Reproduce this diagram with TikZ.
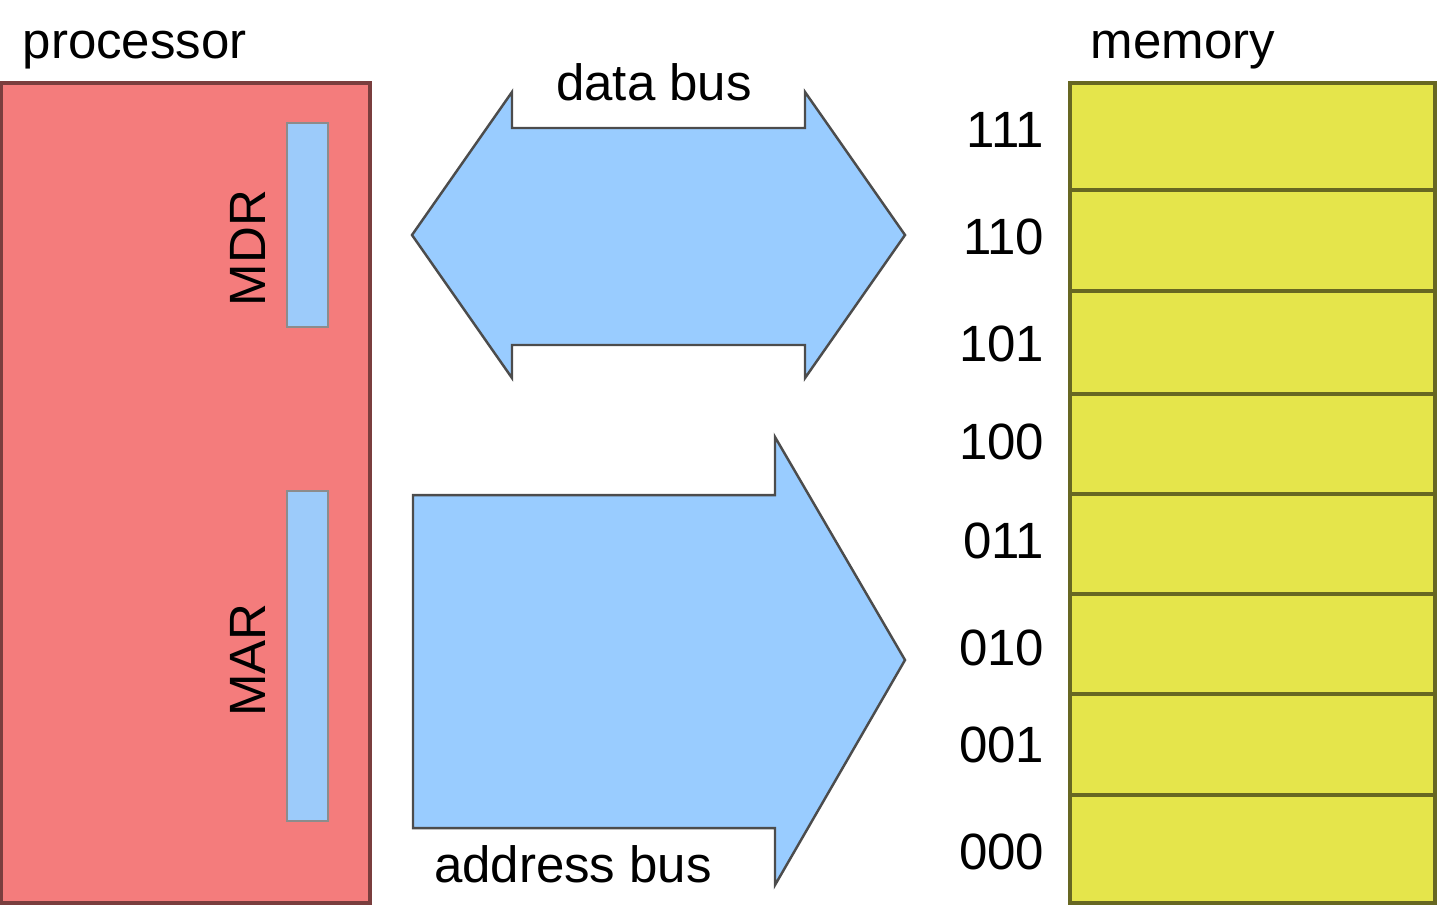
\documentclass[tikz,border=0pt]{standalone}
\usepackage{fontspec}
\setmainfont{Liberation Sans}
\usetikzlibrary{positioning}
\definecolor{procred}{HTML}{F47C7C}
\definecolor{regblue}{HTML}{9CCBFA}
\definecolor{busblue}{HTML}{99CCFF}
\definecolor{memyellow}{HTML}{E5E54B}
\tikzstyle{unit}=[line width=0.9pt]
\tikzstyle{reg}=[draw=black!45,fill=regblue,line width=0.8pt]
\tikzstyle{bus}=[draw=black!70,fill=busblue,line width=0.7pt,line join=miter]
\tikzstyle{lbl}=[inner sep=0,font=\fontsize{14.5}{17}\selectfont]

\begin{document}
\begin{tikzpicture}[x=0.01cm,y=-0.01cm]
\useasboundingbox (0,0) rectangle (1440,905);

% processor with its two registers
\draw[unit,draw=procred!50!black,fill=procred] (1,83) rectangle (370,903);
\draw[reg] (287,123) rectangle (328,327);
\draw[reg] (287,491) rectangle (328,821);
\node[lbl,anchor=base west] (proc) at (22,58) {processor};
\node[lbl,rotate=90] (mdr) at (248,248) {MDR};
\node[lbl,rotate=90] (mar) at (248,660) {MAR};

% the two buses
\draw[bus] (412,235)--(512,92)--(512,128)--(805,128)--(805,92)--(905,235)
 --(805,378)--(805,345)--(512,345)--(512,378)--cycle;
\draw[bus] (413,495)--(775,495)--(775,437)--(905,660)--(775,885)--(775,828)
 --(413,828)--cycle;
\node[lbl,anchor=base] (dbus) at (654,100) {data bus};
\node[lbl,anchor=base] (abus) at (573,882) {address bus};

% memory cells
\draw[unit,draw=memyellow!45!black,fill=memyellow] (1070,83) rectangle (1435,903);
\foreach \y in {190,291,394,494,594,694,795}{
	\draw[unit,draw=memyellow!45!black] (1070,\y)--(1435,\y);
}
\node[lbl,anchor=base west] (mem) at (1090,58) {memory};
\foreach \a/\y in {111/130,110/237,101/344,100/442,011/541,010/648,001/745,000/852}{
	\node[lbl,anchor=east] (addr\a) at (1045,\y) {\a};
}

\end{tikzpicture}
\end{document}
